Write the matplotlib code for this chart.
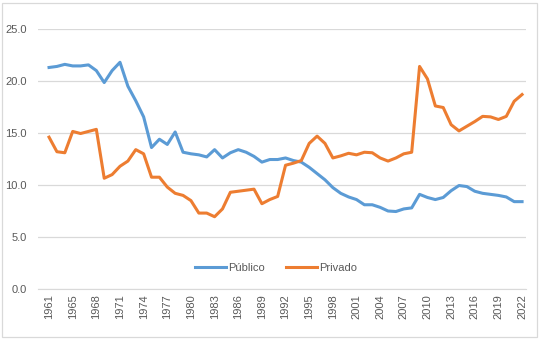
import matplotlib.pyplot as plt
from matplotlib.patches import Rectangle

# años (categorías del eje X)
anios = [1961] + list(range(1963, 2023))

publico = [21.3, 21.4, 21.6, 21.45, 21.45, 21.55, 21.0, 19.85, 21.0, 21.8,
           19.5, 18.1, 16.55, 13.6, 14.4, 13.9, 15.1, 13.15, 13.0, 12.9,
           12.7, 13.4, 12.6, 13.1, 13.4, 13.15, 12.75, 12.2, 12.45, 12.45,
           12.6, 12.35, 12.2, 11.7, 11.1, 10.5, 9.75, 9.2, 8.85, 8.6,
           8.1, 8.1, 7.85, 7.5, 7.45, 7.7, 7.8, 9.1, 8.8, 8.6,
           8.8, 9.45, 9.95, 9.85, 9.4, 9.2, 9.1, 9.0, 8.85, 8.4,
           8.4]

privado = [14.6, 13.2, 13.1, 15.15, 14.95, 15.15, 15.35, 10.65, 11.0, 11.8,
           12.3, 13.4, 13.0, 10.75, 10.75, 9.8, 9.2, 9.0, 8.5, 7.3,
           7.3, 6.95, 7.7, 9.3, 9.4, 9.5, 9.6, 8.2, 8.6, 8.9,
           11.9, 12.1, 12.35, 14.0, 14.7, 14.0, 12.6, 12.8, 13.05, 12.9,
           13.15, 13.1, 12.6, 12.3, 12.6, 13.0, 13.15, 21.4, 20.2, 17.6,
           17.45, 15.8, 15.2, 15.65, 16.1, 16.6, 16.55, 16.3, 16.6, 18.05,
           18.7]

AZUL = '#5B9BD5'
NARANJA = '#ED7D31'
GRIS = '#595959'

plt.rcParams['font.family'] = ['Liberation Sans', 'DejaVu Sans']

fig = plt.figure(figsize=(5.4, 3.39), dpi=100)
ax = fig.add_axes([38/540, 1 - 289/339, (526 - 38)/540, (289 - 29)/339])

x = list(range(len(anios)))
ax.plot(x, publico, color=AZUL, lw=2.2, label='Público', solid_joinstyle='round')
ax.plot(x, privado, color=NARANJA, lw=2.2, label='Privado', solid_joinstyle='round')

ax.set_ylim(0, 25)
ax.set_xlim(-1.4, 60.5)
ax.set_yticks([0, 5, 10, 15, 20, 25])
ax.set_yticklabels([f'{v:.1f}' for v in [0, 5, 10, 15, 20, 25]])
ax.set_xticks(x[::3])
ax.set_xticklabels([str(a) for a in anios[::3]], rotation=90)

ax.grid(axis='y', color='#D9D9D9', lw=0.9)
ax.set_axisbelow(True)
for lado in ['top', 'right', 'left']:
    ax.spines[lado].set_visible(False)
ax.spines['bottom'].set_color('#D9D9D9')
ax.tick_params(axis='both', length=0, colors=GRIS, labelsize=8)
ax.tick_params(axis='x', pad=4)
ax.tick_params(axis='y', pad=8)

fig.legend(loc='center', bbox_to_anchor=(276/540, 1 - 268/339), ncol=2,
           frameon=False, fontsize=8, labelcolor=GRIS, handlelength=2.8,
           handletextpad=0.15, columnspacing=1.9)

# borde del área del gráfico
fig.patches.append(Rectangle((2/540, 2/339), 535/540, 334/339, transform=fig.transFigure,
                             fill=False, edgecolor='#D9D9D9', lw=0.9))

fig.savefig('out.png', dpi=100)
